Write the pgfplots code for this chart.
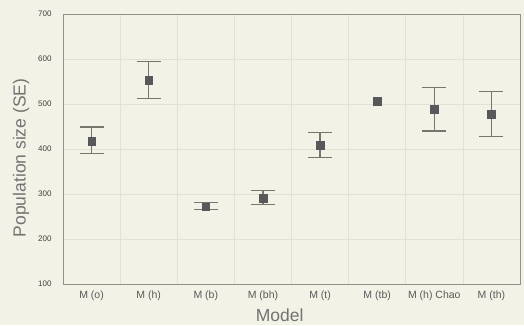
\documentclass[border=0pt]{standalone}
\usepackage{pgfplots}
\pgfplotsset{compat=1.18}
\usepackage{fontspec}
\setmainfont{Liberation Sans}
\definecolor{bg}{HTML}{F3F2E6}
\definecolor{mk}{HTML}{58585A}
\definecolor{eb}{HTML}{76766F}
\definecolor{gr}{HTML}{E2E1D4}
\begin{document}
\begin{tikzpicture}[x=1pt,y=1pt]
\fill[bg] (-63,-41) rectangle (461,284);
\begin{axis}[
  at={(0,0)}, anchor=south west,
  scale only axis, width=457pt, height=270pt,
  xmin=0, xmax=8, ymin=100, ymax=700,
  xtick={0.5,1.5,2.5,3.5,4.5,5.5,6.5,7.5},
  xticklabels={M (o),M (h),M (b),M (bh),M (t),M (tb),M (h) Chao,M (th)},
  minor xtick={1,2,3,4,5,6,7},
  ytick={100,200,...,700},
  grid=both,
  major grid style={gr, line width=0.6pt},
  minor grid style={gr, line width=0.6pt},
  ymajorgrids=true, xmajorgrids=false, xminorgrids=true,
  axis line style={eb!80, line width=0.6pt},
  axis background/.style={fill=bg},
  major tick length=0pt, minor tick length=0pt,
  yticklabel style={font=\fontsize{8}{9}\selectfont, text=black!75, xshift=-8pt},
  xticklabel style={font=\fontsize{10.5}{12}\selectfont, text=black!65, yshift=-3pt},
  /pgf/number format/assume math mode=true,
  xlabel={Model}, ylabel={Population size (SE)},
  label style={font=\fontsize{17.5}{20}\selectfont, text=black!55},
  xlabel style={at={(ticklabel cs:0.474)}, yshift=-2pt},
  ylabel style={at={(ticklabel cs:0.467)}, yshift=2pt},
]
\addplot[only marks, mark=square*, mark size=3.8pt, mark options={fill=mk, draw=mk},
  error bars/.cd, y dir=both, y explicit,
  error bar style={eb, line width=1.3pt},
  error mark options={rotate=90, eb, mark size=12pt, line width=1.1pt}]
coordinates {
  (0.5,418) += (0,31) -= (0,27)
  (1.5,553) += (0,41) -= (0,41)
  (2.5,272) += (0,10) -= (0,6)
  (3.5,291) += (0,16) -= (0,15)
  (4.5,408) += (0,28) -= (0,27)
  (6.5,488) += (0,48) -= (0,48)
  (7.5,477) += (0,51) -= (0,49)
};
\addplot[only marks, mark=square*, mark size=3.8pt, mark options={fill=mk, draw=mk}]
coordinates {(5.5,506)};
\end{axis}
\end{tikzpicture}
\end{document}
